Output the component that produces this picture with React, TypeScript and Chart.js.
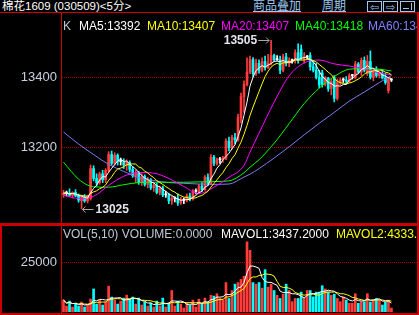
import React, { useEffect, useRef } from 'react';
import { Chart, registerables } from 'chart.js';

Chart.register(...registerables);

// ---------- data ----------
const OPEN = [
  13066, 13070, 13070, 13064, 13072, 13062, 13048, 13058, 13048, 13055,
  13140, 13112, 13100, 13125, 13108, 13135, 13180, 13155, 13178, 13160,
  13160, 13150, 13158, 13138, 13120, 13128, 13100, 13118, 13095, 13108,
  13085, 13092, 13072, 13085, 13065, 13065, 13048, 13055, 13055, 13042,
  13050, 13050, 13062, 13055, 13075, 13075, 13090, 13080, 13115, 13098,
  13172, 13155, 13165, 13165, 13170, 13218, 13200, 13228, 13222, 13285,
  13345, 13380, 13415, 13450, 13410, 13440, 13420, 13445, 13428, 13440,
  13462, 13450, 13450, 13420, 13458, 13440, 13448, 13448, 13470, 13480,
  13455, 13458, 13462, 13430, 13420, 13400, 13412, 13380, 13398, 13368,
  13400, 13340, 13385, 13392, 13392, 13388, 13405, 13400, 13438, 13415,
  13448, 13410, 13445, 13400, 13418, 13405, 13410, 13398, 13362, 13392,
];
const HIGH = [
  13078, 13076, 13082, 13074, 13080, 13068, 13062, 13066, 13064, 13150,
  13148, 13125, 13130, 13135, 13140, 13188, 13190, 13185, 13182, 13170,
  13168, 13165, 13162, 13145, 13135, 13132, 13125, 13122, 13115, 13112,
  13100, 13098, 13090, 13090, 13075, 13070, 13062, 13060, 13068, 13058,
  13056, 13068, 13070, 13080, 13082, 13095, 13100, 13120, 13125, 13180,
  13178, 13170, 13172, 13175, 13225, 13230, 13235, 13240, 13295, 13355,
  13390, 13455, 13460, 13456, 13452, 13450, 13455, 13460, 13465, 13505,
  13466, 13462, 13460, 13465, 13468, 13455, 13452, 13478, 13495, 13492,
  13470, 13462, 13470, 13448, 13440, 13420, 13420, 13402, 13400, 13395,
  13405, 13395, 13398, 13398, 13402, 13410, 13408, 13445, 13442, 13455,
  13458, 13462, 13475, 13425, 13430, 13415, 13420, 13412, 13400, 13396,
];
const LOW = [
  13058, 13062, 13060, 13056, 13060, 13044, 13025, 13044, 13042, 13050,
  13105, 13090, 13095, 13100, 13100, 13130, 13150, 13150, 13150, 13150,
  13140, 13135, 13130, 13115, 13100, 13095, 13092, 13090, 13085, 13080,
  13075, 13068, 13065, 13060, 13058, 13040, 13038, 13045, 13035, 13038,
  13040, 13045, 13048, 13050, 13068, 13070, 13075, 13078, 13092, 13095,
  13148, 13150, 13155, 13158, 13165, 13190, 13195, 13210, 13218, 13270,
  13300, 13375, 13410, 13400, 13405, 13412, 13415, 13420, 13425, 13435,
  13445, 13448, 13410, 13415, 13432, 13430, 13440, 13440, 13440, 13450,
  13440, 13452, 13420, 13415, 13395, 13370, 13372, 13375, 13360, 13350,
  13330, 13335, 13378, 13385, 13382, 13385, 13395, 13395, 13410, 13405,
  13415, 13405, 13395, 13390, 13400, 13398, 13395, 13380, 13355, 13388,
];
const CLOSE = [
  13070, 13070, 13064, 13072, 13062, 13050, 13058, 13048, 13060, 13140,
  13112, 13100, 13125, 13108, 13135, 13180, 13155, 13178, 13160, 13160,
  13150, 13158, 13138, 13120, 13128, 13100, 13118, 13095, 13108, 13085,
  13092, 13072, 13085, 13065, 13065, 13048, 13055, 13055, 13042, 13050,
  13050, 13062, 13055, 13075, 13075, 13090, 13080, 13115, 13098, 13172,
  13155, 13165, 13165, 13170, 13218, 13200, 13228, 13222, 13285, 13345,
  13380, 13415, 13450, 13410, 13440, 13420, 13445, 13428, 13440, 13462,
  13450, 13450, 13420, 13458, 13440, 13448, 13448, 13470, 13448, 13455,
  13458, 13458, 13430, 13420, 13400, 13378, 13380, 13398, 13368, 13388,
  13340, 13385, 13392, 13392, 13388, 13405, 13405, 13438, 13415, 13448,
  13420, 13445, 13400, 13418, 13405, 13410, 13398, 13385, 13396, 13392,
];
const VOLUME = [
  6000, 3000, 5500, 2500, 4500, 3000, 5000, 2500, 3500, 6500,
  11600, 4000, 6000, 3500, 5000, 13000, 7500, 6000, 4000, 5500,
  7000, 8500, 6500, 7500, 4000, 7000, 3500, 5000, 3000, 4500,
  2500, 5500, 3000, 7000, 2500, 4500, 10800, 3000, 5500, 4000,
  2000, 4500, 3500, 6000, 2500, 6500, 4000, 7000, 5000, 8400,
  8000, 9200, 6800, 6000, 14800, 6800, 10800, 14000, 14800, 16400,
  18000, 35300, 31000, 14800, 14000, 14800, 12000, 21300, 12500, 14000,
  10800, 8400, 6800, 9000, 14000, 10800, 5200, 6800, 6800, 10000,
  7000, 10800, 10800, 7600, 10000, 10000, 13200, 11600, 10000, 8400,
  9000, 6800, 5200, 7600, 6000, 4400, 4400, 9200, 4400, 5200,
  5200, 9200, 5000, 6000, 6800, 6000, 3500, 5000, 6000, 2000,
];
// slow moving averages read at sampled candles
const MA_SAMPLE_IDX = [0, 5, 10, 15, 20, 25, 30, 35, 40, 45, 50, 55, 60, 62, 65, 70, 75, 80, 85, 90, 95, 100, 105, 109];
const MA20_VALUES = [13064, 13055, 13061, 13092, 13118, 13129, 13127, 13112, 13089, 13069, 13087, 13115, 13149, 13187, 13241, 13329, 13404, 13441, 13449, 13438, 13432, 13424, 13412, 13407];
const MA40_VALUES = [13158, 13110, 13088, 13087, 13094, 13100, 13101, 13101, 13101, 13102, 13103, 13105, 13128, 13144, 13165, 13212, 13268, 13325, 13369, 13402, 13423, 13425, 13423, 13418];
const MA60_VALUES = [13244, 13210, 13180, 13152, 13132, 13114, 13106, 13100, 13098, 13096, 13095, 13096, 13116, 13124, 13140, 13170, 13202, 13236, 13269, 13300, 13332, 13358, 13385, 13405];

const SLOTS = 118;
const PRICE_TICKS = [13200, 13400];
const VOLUME_TICKS = [25000];

const TITLE = '棉花1609 (030509)<5分>';
const MA_LEGEND = [
  { text: 'MA5:13392', color: '#ffffff', x: 79 },
  { text: 'MA10:13407', color: '#ffff00', x: 147 },
  { text: 'MA20:13407', color: '#ff00ff', x: 221 },
  { text: 'MA40:13418', color: '#00ff00', x: 295 },
  { text: 'MA60:13406', color: '#8080ff', x: 368 },
];
const VOL_LEGEND = [
  { text: 'VOL(5,10) VOLUME:0.0000', color: '#c0c8d8', x: 63 },
  { text: 'MAVOL1:3437.2000', color: '#ffffff', x: 221 },
  { text: 'MAVOL2:4333.4000', color: '#ffff00', x: 336 },
];

// ---------- helpers ----------
const RED = '#ff3c3c';
const CYAN = '#00ffff';
const WHITE = '#ffffff';
const BORDER = '#cc0000';
const FONT = "'Liberation Sans', Arial, sans-serif";

const movingAvg = (src: number[], n: number) =>
  src.map((_, i) => {
    const w = src.slice(Math.max(0, i - n + 1), i + 1);
    return w.reduce((a, b) => a + b, 0) / w.length;
  });

const sparse = (idx: number[], vals: number[]) => {
  const out: (number | null)[] = new Array(CLOSE.length).fill(null);
  idx.forEach((k, j) => (out[k] = vals[j]));
  return out;
};

const candleColor = (i: number) => (CLOSE[i] > OPEN[i] ? RED : CLOSE[i] < OPEN[i] ? CYAN : WHITE);
const volColor = (i: number) => (CLOSE[i] >= OPEN[i] ? RED : CYAN);

const fitAxis = (s: any) => {
  s.width = 62;
  s.paddingTop = 0;
  s.paddingBottom = 0;
};

const arrow = (ctx: CanvasRenderingContext2D, from: number, to: number, y: number) => {
  const dir = to > from ? 1 : -1;
  ctx.beginPath();
  ctx.moveTo(from, y);
  ctx.lineTo(to, y);
  ctx.moveTo(to - dir * 3, y - 3);
  ctx.lineTo(to, y);
  ctx.lineTo(to - dir * 3, y + 3);
  ctx.stroke();
};

const extremesPlugin = {
  id: 'extremes',
  afterDatasetsDraw(chart: any) {
    const { ctx } = chart;
    const xs = chart.scales.x;
    const ys = chart.scales.y;
    const hiVal = Math.max(...HIGH);
    const hiIdx = HIGH.indexOf(hiVal);
    const loVal = Math.min(...LOW);
    const loIdx = LOW.indexOf(loVal);
    ctx.save();
    ctx.font = `bold 12px ${FONT}`;
    ctx.textBaseline = 'middle';
    ctx.fillStyle = '#e4e4ee';
    ctx.strokeStyle = '#a8a8b0';
    ctx.lineWidth = 1;
    let px = xs.getPixelForValue(hiIdx);
    let py = Math.round(ys.getPixelForValue(hiVal)) + 0.5;
    ctx.textAlign = 'right';
    ctx.fillText(String(hiVal), px - 14, py);
    arrow(ctx, px - 13, px - 2, py);
    px = xs.getPixelForValue(loIdx);
    py = Math.round(ys.getPixelForValue(loVal)) + 0.5;
    ctx.textAlign = 'left';
    ctx.fillText(String(loVal), px + 14, py);
    arrow(ctx, px + 12, px + 1, py);
    ctx.restore();
  },
};

const axisY = (min: number, max: number, ticks: number[]) => ({
  position: 'left' as const,
  min,
  max,
  afterFit: fitAxis,
  afterBuildTicks: (s: any) => {
    s.ticks = ticks.map((v) => ({ value: v }));
  },
  ticks: {
    color: '#c8d0e0',
    font: { family: FONT, size: 13 },
    padding: 5,
    callback: (v: any) => String(v),
  },
  grid: { color: '#b00000', lineWidth: 1, drawTicks: false },
  border: { display: false, dash: [1, 1] },
});

const lineDs = (label: string, data: any[], color: string, order: number, smooth = false) => ({
  type: 'line' as const,
  label,
  data,
  borderColor: color,
  borderWidth: 1,
  pointRadius: 0,
  spanGaps: true,
  tension: smooth ? 0.4 : 0,
  cubicInterpolationMode: smooth ? ('monotone' as const) : ('default' as const),
  order,
});

export default function App() {
  const priceRef = useRef<HTMLCanvasElement>(null);
  const volRef = useRef<HTMLCanvasElement>(null);

  useEffect(() => {
    const labels = Array.from({ length: SLOTS }, (_, i) => String(i));
    const colors = CLOSE.map((_, i) => candleColor(i));
    const vcolors = CLOSE.map((_, i) => volColor(i));

    const price = new Chart(priceRef.current!, {
      type: 'bar',
      data: {
        labels,
        datasets: [
          lineDs('MA5', movingAvg(CLOSE, 5), '#ffffff', 0),
          lineDs('MA10', movingAvg(CLOSE, 10), '#ffff00', 1),
          lineDs('MA20', sparse(MA_SAMPLE_IDX, MA20_VALUES), '#ff00ff', 2, true),
          lineDs('MA40', sparse(MA_SAMPLE_IDX, MA40_VALUES), '#00ff00', 3, true),
          lineDs('MA60', sparse(MA_SAMPLE_IDX, MA60_VALUES), '#7c7cf0', 4, true),
          {
            type: 'bar',
            label: 'body',
            data: OPEN.map((o, i) => [o, CLOSE[i]]),
            backgroundColor: colors,
            barThickness: 2,
            minBarLength: 1,
            grouped: false,
            order: 10,
          } as any,
          {
            type: 'bar',
            label: 'wick',
            data: LOW.map((l, i) => [l, HIGH[i]]),
            backgroundColor: colors,
            barThickness: 1,
            grouped: false,
            order: 11,
          } as any,
        ],
      },
      options: {
        responsive: false,
        animation: false,
        events: [],
        layout: { padding: 0 },
        plugins: { legend: { display: false }, tooltip: { enabled: false } },
        scales: {
          x: { display: false, offset: true },
          y: axisY(12985, 13583, PRICE_TICKS) as any,
        },
      },
      plugins: [extremesPlugin],
    });

    const volume = new Chart(volRef.current!, {
      type: 'bar',
      data: {
        labels,
        datasets: [
          lineDs('MAVOL1', movingAvg(VOLUME, 5), '#ffffff', 0),
          lineDs('MAVOL2', movingAvg(VOLUME, 10), '#ffff00', 1),
          {
            type: 'bar',
            label: 'VOLUME',
            data: VOLUME,
            backgroundColor: vcolors,
            barThickness: 2,
            grouped: false,
            order: 10,
          } as any,
        ],
      },
      options: {
        responsive: false,
        animation: false,
        events: [],
        layout: { padding: 0 },
        plugins: { legend: { display: false }, tooltip: { enabled: false } },
        scales: {
          x: { display: false, offset: true },
          y: axisY(0, 43260, VOLUME_TICKS) as any,
        },
      },
    });

    return () => {
      price.destroy();
      volume.destroy();
    };
  }, []);

  const abs = (s: React.CSSProperties): React.CSSProperties => ({ position: 'absolute', ...s });
  const legendText = (x: number, top: number, color: string): React.CSSProperties =>
    abs({ left: x, top, color, font: `12px ${FONT}`, lineHeight: '12px', whiteSpace: 'nowrap' });
  const iconBox = (x: number): React.CSSProperties =>
    abs({
      left: x,
      top: 1,
      width: 15,
      height: 11,
      border: '1px solid #9cc8f0',
      color: '#9cc8f0',
      font: "11px 'DejaVu Sans', sans-serif",
      lineHeight: '11px',
      textAlign: 'center',
      boxSizing: 'border-box',
    });

  return (
    <div
      style={{
        position: 'fixed',
        left: 0,
        top: 0,
        width: 419,
        height: 315,
        background: '#000',
        overflow: 'hidden',
      }}
    >
      {/* title bar */}
      <div
        style={abs({
          left: 2,
          top: 0,
          color: '#ffffff',
          font: `11.5px 'Liberation Sans', 'Noto Sans CJK SC', sans-serif`,
          lineHeight: '13px',
          whiteSpace: 'nowrap',
        })}
      >
        {TITLE}
      </div>
      <div
        style={abs({
          left: 253,
          top: -1,
          color: '#9cc8f0',
          font: "12px 'Noto Sans CJK SC', sans-serif",
          lineHeight: '12px',
          textDecoration: 'underline',
          whiteSpace: 'nowrap',
        })}
      >
        商品叠加
      </div>
      <div
        style={abs({
          left: 322,
          top: -1,
          color: '#9cc8f0',
          font: "12px 'Noto Sans CJK SC', sans-serif",
          lineHeight: '12px',
          textDecoration: 'underline',
          whiteSpace: 'nowrap',
        })}
      >
        周期
      </div>
      <div style={iconBox(367)}>⇦</div>
      <div style={iconBox(383)}>⇨</div>
      <div style={iconBox(400)}>
        <div style={abs({ left: 2, top: 6, width: 6, height: 1, background: '#9cc8f0' })} />
        <div style={abs({ left: 10, top: 1, width: 1, height: 7, background: '#9cc8f0' })} />
      </div>

      {/* charts */}
      <canvas ref={priceRef} width={417} height={210} style={abs({ left: 0, top: 13 })} />
      <canvas ref={volRef} width={417} height={86} style={abs({ left: 0, top: 226 })} />

      {/* frame lines */}
      <div style={abs({ left: 0, top: 12, width: 419, height: 1, background: BORDER })} />
      <div style={abs({ left: 61, top: 12, width: 1, height: 303, background: BORDER })} />
      <div style={abs({ left: 417, top: 12, width: 2, height: 303, background: BORDER })} />
      <div style={abs({ left: 0, top: 223, width: 419, height: 3, background: BORDER })} />
      <div style={abs({ left: 0, top: 223, width: 2, height: 92, background: BORDER })} />
      <div style={abs({ left: 0, top: 313, width: 419, height: 2, background: BORDER })} />

      {/* legends */}
      <div style={legendText(63, 20, '#c0c8d8')}>K</div>
      <div style={abs({ left: 62, top: 13, width: 355, height: 20, overflow: 'hidden' })}>
        {MA_LEGEND.map((m) => (
          <div key={m.text} style={legendText(m.x - 62, 7, m.color)}>
            {m.text}
          </div>
        ))}
      </div>
      <div style={abs({ left: 62, top: 226, width: 355, height: 16, overflow: 'hidden' })}>
        {VOL_LEGEND.map((m) => (
          <div key={m.text} style={legendText(m.x - 62, 2, m.color)}>
            {m.text}
          </div>
        ))}
      </div>
    </div>
  );
}
